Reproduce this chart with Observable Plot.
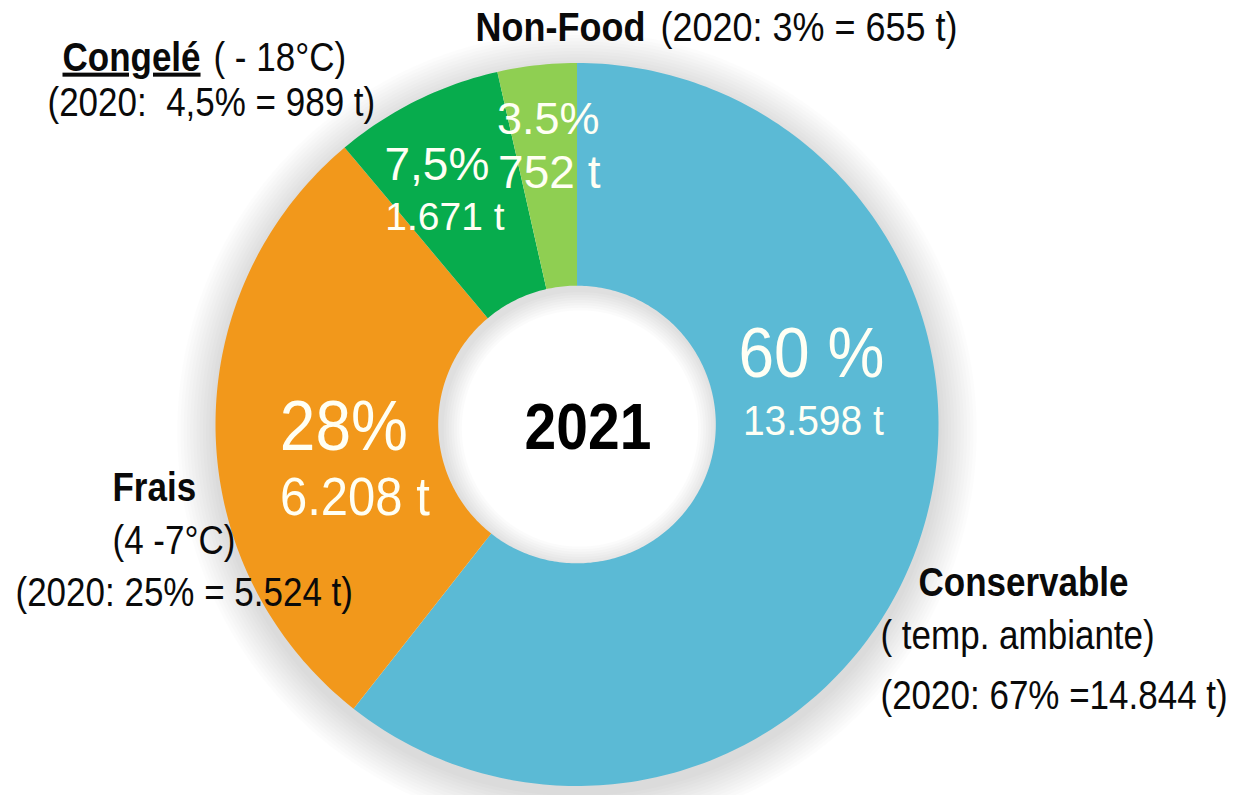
<!DOCTYPE html>
<html><head><meta charset="utf-8">
<script src="https://cdn.jsdelivr.net/npm/d3@7"></script>
<script src="https://cdn.jsdelivr.net/npm/@observablehq/plot@0.6"></script>
<style>
html,body{margin:0;padding:0;background:#fff;}
#chart{width:1249px;height:795px;overflow:hidden;}
#chart svg text{white-space:pre;}
</style></head><body><div id="chart"></div>
<script>
// ---- data ----
const categories   = ["Conservable", "Frais", "Congelé", "Non-Food"];
const share2021    = [60, 28, 7.5, 3.5];
const tonnes2021   = [13598, 6208, 1671, 752];
const shareLabels  = ["60 %", "28%", "7,5%", "3.5%"];
const share2020    = [67, 25, 4.5, 3];
const tonnes2020   = [14844, 5524, 989, 655];
const colors       = ["#5BBAD5", "#F2981B", "#07AC4D", "#8FCF52"];
const centerLabel  = "2021";
const outerTitles  = ["Conservable", "Frais", "Congelé", "Non-Food"];
const outerNotes   = ["( temp. ambiante)", "(4 -7°C)", "( - 18°C)", ""];
const outerLabels2020 = ["(2020: 67% =14.844 t)", "(2020: 25% = 5.524 t)", "(2020:  4,5% = 989 t)", "(2020: 3% = 655 t)"];

// ---- styling: reference type is horizontally condensed ----
const FAMILY = "'Liberation Sans', Arial, sans-serif";
const K_OUT = 1.15;                 // font-size factor for outer / centre text (then squeezed back to width)
const K_IN = [1.1, 1.1, 1, 1];      // same for in-slice labels
const squeeze = new Map();          // text -> horizontal scale

// ---- layout (styling / placement only) ----
const W = 1249, H = 795;
const innerRatio = 139 / 362;
const latInner = 90 - 90 * innerRatio;
const latMid = 90 - 90 * (1 + innerRatio) / 2;
const degPerPx = 90 / 362;
const inLabelStyle = [ // per slice: [pct fontSize, dx, baseline offset], [tonnes fontSize, dx, baseline offset]
  [[64, -2, -129], [39, 0, -71]],
  [[64, 17, 22], [49, 28, 87]],
  [[46, -29, -20], [39, -21, 30]],
  [[45, -1, -42], [46, 0, 12]]
];
const FS = 35;
const outerLayout = [
  {title: [918, 595], note: [880, 648], y2020: [880, 708]},
  {title: [112, 500], note: [112, 553], y2020: [15, 605]},
  {title: [62, 70],  note: [213, 70],  y2020: [47, 115]},
  {title: [475, 40], note: null,       y2020: [660, 40]}
];

// ---- geometry from data ----
const fmtT = d3.formatLocale({decimal: ",", thousands: ".", grouping: [3], currency: ["", ""]}).format(",d");
const total = d3.sum(share2021);
const lonOf = t => 180 - t;
let acc = 0;
const slices = categories.map((c, i) => {
  const a0 = acc / total * 360; acc += share2021[i]; const a1 = acc / total * 360;
  return {category: c, a0, a1, mid: (a0 + a1) / 2, i};
});
function ring(a0, a1) {
  const n = Math.max(2, Math.ceil(a1 - a0));
  const pts = [];
  for (let k = 0; k <= n; k++) pts.push([lonOf(a0 + (a1 - a0) * k / n), 0]);
  for (let k = n; k >= 0; k--) pts.push([lonOf(a0 + (a1 - a0) * k / n), latInner]);
  pts.push(pts[0]);
  return pts;
}
const features = slices.map(s => ({
  type: "Feature", properties: {category: s.category},
  geometry: {type: "Polygon", coordinates: [ring(s.a0, s.a1)]}
}));

// soft shadow: stacked translucent annuli around the pole (angular radii in degrees)
const circ = r => d3.geoCircle().center([0, 90]).radius(r).precision(1)().coordinates[0];
const annulus = (ro, ri) => ({type: "Polygon", coordinates: [circ(ro), circ(ri).slice().reverse()]});
const outerShadow = d3.range(1, 13).map(j => annulus(90 + j * 3.2 * degPerPx, 90 - 8 * degPerPx));
const innerShadow = d3.range(1, 9).map(j => annulus(90 * innerRatio + 8 * degPerPx, 90 * innerRatio - j * 2.6 * degPerPx));

const marks = [
  Plot.geo(outerShadow, {fill: "#000", fillOpacity: 0.011, dy: 7}),
  Plot.geo(innerShadow, {fill: "#000", fillOpacity: 0.014, dx: 3, dy: 4}),
  Plot.geo(features, {fill: d => d.properties.category, stroke: "none"})
];

const midShift = fs => -0.32 * fs; // middle anchor -> baseline
slices.forEach((s, i) => {
  const [p, t] = inLabelStyle[i];
  const pos = [{lon: lonOf(s.mid), lat: latMid}];
  const fp = p[0] * K_IN[i], ft = t[0] * K_IN[i];
  const tl = fmtT(tonnes2021[i]) + " t";
  squeeze.set(shareLabels[i], 1 / K_IN[i]); squeeze.set(tl, 1 / K_IN[i]);
  marks.push(Plot.text(pos, {x: "lon", y: "lat", text: () => shareLabels[i], fontSize: fp, dx: p[1], dy: p[2] + midShift(fp), fill: "#FFFFF4", textAnchor: "middle", lineAnchor: "middle"}));
  marks.push(Plot.text(pos, {x: "lon", y: "lat", text: () => tl, fontSize: ft, dx: t[1], dy: t[2] + midShift(ft), fill: "#FFFFF4", textAnchor: "middle", lineAnchor: "middle"}));
});
squeeze.set(centerLabel, 1 / K_OUT);
marks.push(Plot.text([{lon: 0, lat: 90}], {x: "lon", y: "lat", text: () => centerLabel, fontSize: 57 * K_OUT, fontWeight: "bold", fill: "#000", dx: 11, dy: 24 - 0.32 * 57 * K_OUT, textAnchor: "middle", lineAnchor: "middle"}));

const ML = 215, MT = 62;
function ann(str, x, base, opts = {}) {
  const fs = (opts.fontSize || FS) * K_OUT;
  squeeze.set(str, 1 / K_OUT);
  return Plot.text([str], {frameAnchor: "top-left", text: d => d, dx: x - ML, dy: base - 0.32 * fs - MT, textAnchor: "start", lineAnchor: "middle", fill: "#0A0A0A", ...opts, fontSize: fs});
}
categories.forEach((c, i) => {
  const L = outerLayout[i];
  marks.push(ann(outerTitles[i], L.title[0], L.title[1], {fontWeight: "bold", fontSize: i === 3 ? 36 : 35}));
  if (L.note) marks.push(ann(outerNotes[i], L.note[0], L.note[1]));
  marks.push(ann(outerLabels2020[i], L.y2020[0], L.y2020[1], {fontSize: i === 3 ? 36 : 35}));
});

const chart = Plot.plot({
  width: W, height: H,
  marginTop: 62, marginBottom: 9, marginLeft: 215, marginRight: 311,
  projection: {type: "azimuthal-equidistant", rotate: [0, -90], domain: d3.geoCircle().center([0, 90]).radius(90)(), inset: 0, clip: false},
  color: {domain: categories, range: colors},
  style: {fontFamily: FAMILY, background: "#fff", overflow: "visible"},
  marks
});
document.getElementById("chart").append(chart);

// condense glyphs horizontally around each text anchor
chart.querySelectorAll("text").forEach(t => {
  const sx = squeeze.get(t.textContent) ?? 1;
  if (sx !== 1) {
    const tr = t.getAttribute("transform") || "";
    if (t.hasAttribute("x")) t.setAttribute("x", (+t.getAttribute("x")) / sx);
    t.setAttribute("transform", tr + ` scale(${sx},1)`);
  }
  if (t.textContent === "Congelé") t.style.textDecoration = "underline";
});
</script></body></html>
